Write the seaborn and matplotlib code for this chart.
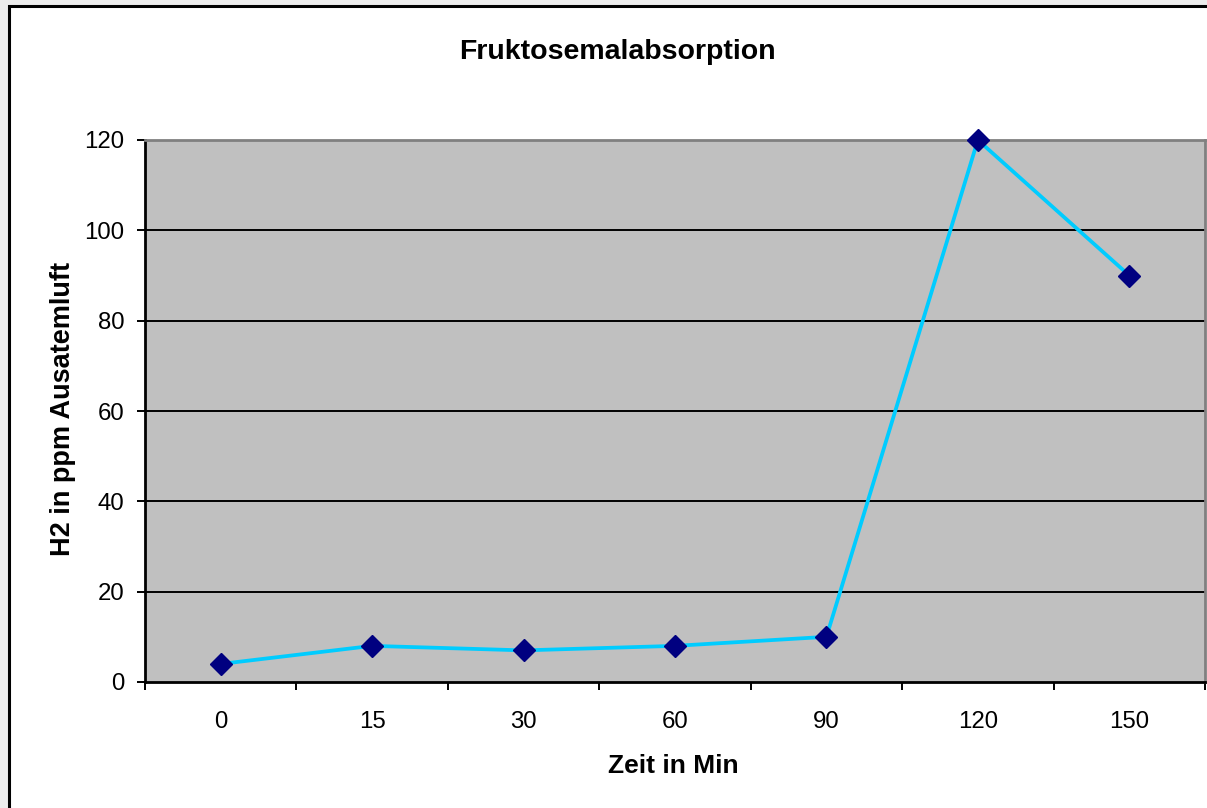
import matplotlib
matplotlib.use("Agg")
import matplotlib.pyplot as plt
import matplotlib.patches as mpatches
import seaborn as sns
import pandas as pd
import numpy as np

# data
zeit = ["0", "15", "30", "60", "90", "120", "150"]
h2 = [4, 8, 7, 8, 10, 120, 90]
y_ticks = [0, 20, 40, 60, 80, 100, 120]

title = "Fruktosemalabsorption"
xlabel = "Zeit in Min"
ylabel = "H2 in ppm Ausatemluft"

df = pd.DataFrame({"Zeit": zeit, "H2": h2})

sns.set_theme(style="white")
plt.rcParams["font.family"] = ["Liberation Sans", "DejaVu Sans"]

W, H = 1207, 808
fig = plt.figure(figsize=(W / 100, H / 100), dpi=100)
fig.patch.set_facecolor("#ececec")

# white chart area with black frame (left/top visible)
frame = mpatches.Rectangle((8.5 / W, -0.1), 1.2, 1 - 6.5 / H + 0.1,
                           transform=fig.transFigure, facecolor="white",
                           edgecolor="black", linewidth=2.2, zorder=-10)
fig.patches.append(frame)

left, right, top, bottom = 145, 1205, 140, 682
ax = fig.add_axes([left / W, 1 - bottom / H, (right - left) / W, (bottom - top) / H])
ax.set_zorder(5)
ax.set_facecolor("#c0c0c0")

for yv in y_ticks[1:-1]:
    ax.axhline(yv, color="black", linewidth=1.4, zorder=1)

sns.lineplot(data=df, x="Zeit", y="H2", sort=False, ax=ax, color="#00ccff",
             linewidth=2.7, marker="D", markersize=11.5,
             markerfacecolor="#000080", markeredgecolor="#000080",
             markeredgewidth=1, zorder=3, clip_on=False)

n = len(zeit)
ax.set_xlim(-0.5, n - 0.5)
ax.set_ylim(0, 120)

ax.set_xticks(np.arange(n + 1) - 0.5)
ax.set_xticklabels([])
ax.set_xticks(np.arange(n), minor=True)
ax.set_xticklabels(zeit, minor=True)
ax.tick_params(axis="x", which="major", direction="out", length=6, width=1.4,
               color="black", bottom=True)
ax.tick_params(axis="x", which="minor", length=0, pad=21, labelsize=17.3,
               labelcolor="black")

ax.set_yticks(y_ticks)
ax.set_yticklabels([str(v) for v in y_ticks])
ax.tick_params(axis="y", direction="out", length=6, width=1.4, color="black",
               left=True, pad=9, labelsize=17.3, labelcolor="black")

for s in ["left", "bottom"]:
    ax.spines[s].set_visible(True)
    ax.spines[s].set_color("black")
    ax.spines[s].set_linewidth(2)
for s in ["top", "right"]:
    ax.spines[s].set_visible(True)
    ax.spines[s].set_color("#808080")
    ax.spines[s].set_linewidth(2)

ax.set_xlabel("")
ax.set_ylabel("")
ax.grid(False)

fig.text(617 / W, 1 - 52 / H, title, ha="center", va="center",
         fontsize=20.5, fontweight="bold", color="black")
fig.text(673 / W, 1 - 766 / H, xlabel, ha="center", va="center",
         fontsize=19, fontweight="bold", color="black")
fig.text(63 / W, 1 - 409 / H, ylabel, ha="center", va="center",
         rotation=90, fontsize=19.5, fontweight="bold", color="black")

fig.savefig("out.png", dpi=100, facecolor=fig.get_facecolor())
